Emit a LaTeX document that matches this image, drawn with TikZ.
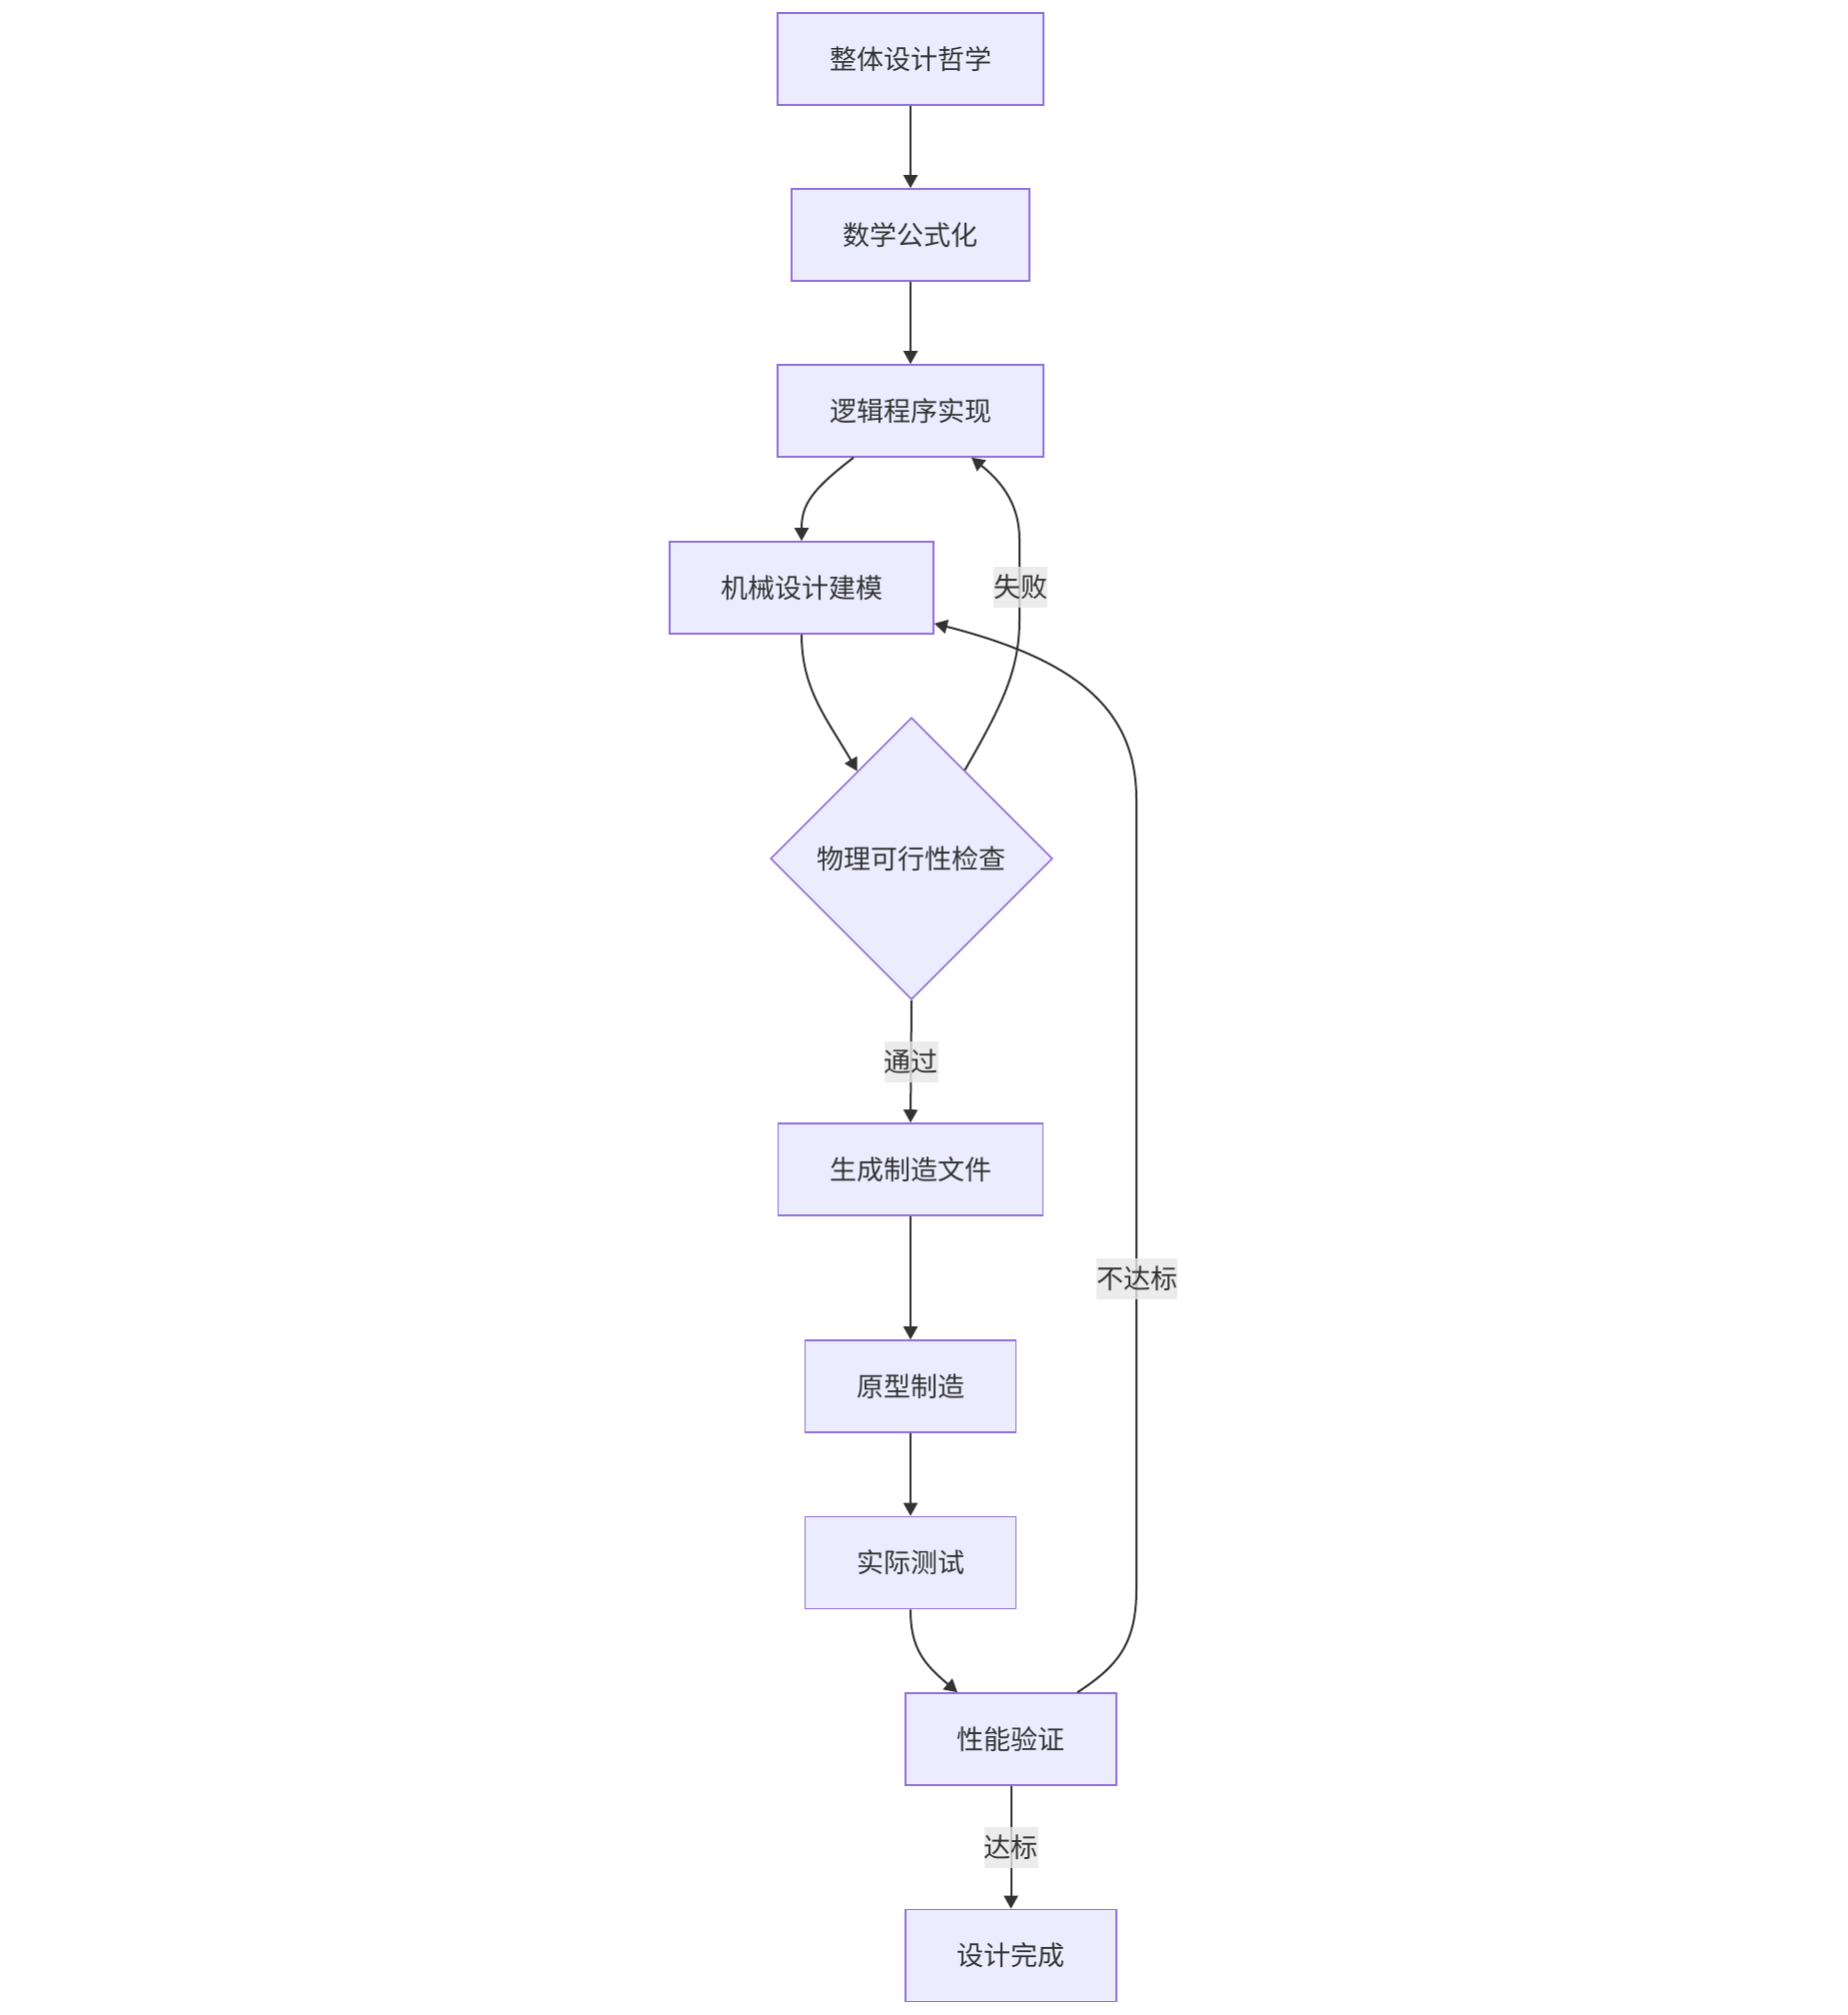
\documentclass[tikz,border=0pt]{standalone}
\usepackage{fontspec}
\newfontfamily\cjk{Noto Sans CJK SC}
\usetikzlibrary{shapes.geometric,arrows.meta,calc}
\definecolor{boxfill}{HTML}{ECECFF}
\definecolor{boxline}{HTML}{9370DB}
\definecolor{edgecol}{HTML}{333333}
\definecolor{lblfill}{HTML}{E8E8E8}
\tikzset{
  procbox/.style={draw=boxline, fill=boxfill, line width=1.6pt, inner sep=0pt,
    minimum height=92pt, text=edgecol, font=\cjk\fontsize{27}{32}\selectfont},
  decbox/.style={diamond, aspect=1, draw=boxline, fill=boxfill, line width=1.6pt, inner sep=0pt,
    minimum width=282pt, minimum height=282pt, text=edgecol, font=\cjk\fontsize{27}{32}\selectfont},
  edge/.style={draw=edgecol, line width=2pt, -{Triangle[length=13pt,width=14pt]}},
  lbl/.style={fill=lblfill, fill opacity=0.8, text opacity=1, text=edgecol, inner sep=0pt,
    minimum height=41pt, font=\cjk\fontsize{27}{32}\selectfont}
}
\begin{document}
\begin{tikzpicture}[x=1pt,y=-1pt]
\useasboundingbox[fill=white] (0,0) rectangle (1848,2016);
% nodes
\node[procbox, minimum width=266pt] (n1) at (911,59) {整体设计哲学};
\node[procbox, minimum width=238pt] (n2) at (911,235) {数学公式化};
\node[procbox, minimum width=266pt] (n3) at (911,411) {逻辑程序实现};
\node[procbox, minimum width=264pt] (n4) at (802,588) {机械设计建模};
\node[decbox] (d) at (912,859) {物理可行性检查};
\node[procbox, minimum width=265pt] (n6) at (911,1170) {生成制造文件};
\node[procbox, minimum width=211pt] (n7) at (911,1387) {原型制造};
\node[procbox, minimum width=211pt] (n8) at (911,1563.5) {实际测试};
\node[procbox, minimum width=211pt] (n9) at (1011.5,1740) {性能验证};
\node[procbox, minimum width=211pt] (n10) at (1011.5,1956.5) {设计完成};
% edges
\draw[edge] (n1) -- (n2);
\draw[edge] (n2) -- (n3);
\draw[edge] ([xshift=-57pt]n3.south) .. controls (812,490) and (802,505) .. (n4.north);
\draw[edge] (n4.south) .. controls (802,690) and (828,720) .. ($(d.north)!0.383!(d.west)$);
\draw[edge] ($(d.north)!0.376!(d.east)$) .. controls (1003,705) and (1020,670) .. (1020,620)
  -- (1020,540) .. controls (1020,500) and (997,478) .. ([xshift=61pt]n3.south);
\draw[edge] (d.south) -- (n6.north);
\draw[edge] (n6) -- (n7);
\draw[edge] (n7) -- (n8);
\draw[edge] (n8.south) .. controls (911,1650) and (925,1665) .. ([xshift=-53.5pt]n9.north);
\draw[edge] ([xshift=66.5pt]n9.north) .. controls (1118,1667) and (1137,1645) .. (1137,1590)
  -- (1137,800) .. controls (1137,715) and (1085,662) .. ([yshift=11pt]n4.south east);
\draw[edge] (n9.south) -- (n10.north);
% labels
\node[lbl] (l1) at (1021,587) {失败};
\node[lbl] (l2) at (911.5,1062) {通过};
\node[lbl] (l3) at (1137.5,1279) {不达标};
\node[lbl] (l4) at (1011.5,1848) {达标};
\end{tikzpicture}
\end{document}
